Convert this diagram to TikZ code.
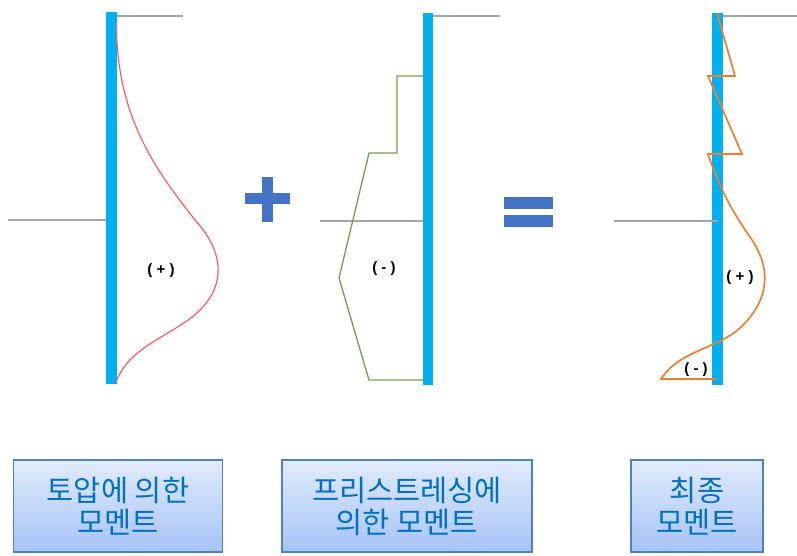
\documentclass[tikz,border=0pt]{standalone}
\usepackage{fontspec}
\setmainfont{Liberation Sans}
\newfontfamily\krfont{Noto Sans CJK KR}
\usetikzlibrary{shadings}
\definecolor{wallc}{HTML}{00B0F0}
\definecolor{grayl}{HTML}{A6A6A6}
\definecolor{redc}{HTML}{FF5B5B}
\definecolor{greenc}{HTML}{70A04E}
\definecolor{orangec}{HTML}{ED7D31}
\definecolor{signc}{HTML}{4472C4}
\definecolor{boxtop}{HTML}{E2EBFB}
\definecolor{boxbot}{HTML}{A5C3F6}
\definecolor{boxedge}{HTML}{4F81BD}
\definecolor{boxtext}{HTML}{0070C0}
\tikzset{
  wall/.style={fill=wallc, draw=none},
  ground/.style={draw=grayl, line width=1.8pt},
  sign/.style={fill=signc, draw=none},
  lbl/.style={font=\bfseries\fontsize{15}{16}\selectfont, inner sep=0pt},
  capbox/.style={draw=boxedge, line width=1.6pt, top color=boxtop, bottom color=boxbot,
    text=boxtext, font=\krfont\fontsize{29.5}{32}\selectfont, align=center, inner sep=0pt}
}
\begin{document}
\begin{tikzpicture}[x=1pt,y=-1pt]
\useasboundingbox (0,0) rectangle (797,556);
% panel 1
\draw[ground] (117,16) -- (183,16);
\draw[ground] (8,220) -- (106,220);
\fill[wall] (106,12) rectangle (116.5,384);
\draw[redc, line width=1.2pt] (116.5,23) .. controls (116,120) and (160,175) .. (195,220)
  .. controls (225,253) and (225,285) .. (200,310)
  .. controls (175,335) and (130,345) .. (116.5,381);
\node[lbl] (l1) at (161,271) {( + )};
% plus
\fill[sign] (245,193) rectangle (290,204);
\fill[sign] (262,177) rectangle (273,222);
% panel 2
\draw[ground] (433,16) -- (500,16);
\draw[ground] (320,221) -- (423,221);
\fill[wall] (423,13) rectangle (433,385);
\draw[greenc, line width=1.3pt] (423,76) -- (397,76) -- (397,153) -- (369,153) -- (339,278) -- (369,380) -- (423,380);
\node[lbl] (l2) at (384,269) {( - )};
% equals
\fill[sign] (504,197) rectangle (553,209);
\fill[sign] (504,215) rectangle (553,227);
% panel 3
\draw[ground] (723,16) -- (797,16);
\fill[wall] (712,13) rectangle (723,385);
\draw[ground] (614,221) -- (718,221);
\draw[orangec, line width=1.7pt, line join=miter] (717,13) -- (735,76) -- (708,76) -- (742,154) -- (708,154)
  .. controls (722,195) and (735,215) .. (750,237)
  .. controls (772,268) and (770,300) .. (740,328)
  .. controls (715,350) and (680,350) .. (661,379) -- (717,379);
\node[lbl] (l3) at (740,278) {( + )};
\node[lbl] (l4) at (696,370) {( - )};
% caption boxes
\node[capbox, minimum width=209pt, minimum height=92pt] (b1) at (118,506) {토압에 의한\\모멘트};
\node[capbox, minimum width=250pt, minimum height=92pt] (b2) at (407,506) {프리스트레싱에\\의한 모멘트};
\node[capbox, minimum width=132pt, minimum height=92pt] (b3) at (697,506) {최종\\모멘트};
\end{tikzpicture}
\end{document}
